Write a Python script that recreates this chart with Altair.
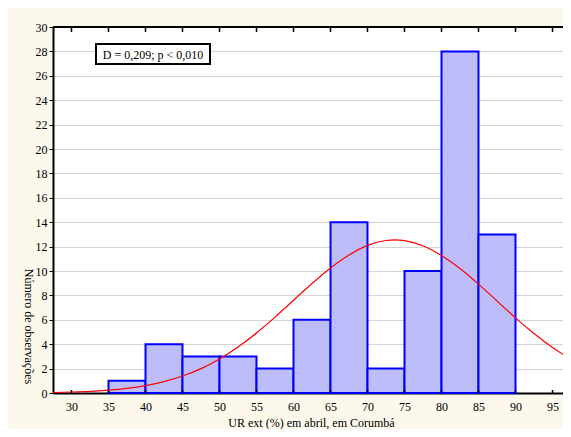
import altair as alt
import pandas as pd

# Histogram bins (UR ext %) and counts
bin_start = [35, 40, 45, 50, 55, 60, 65, 70, 75, 80, 85]
bin_end = [40, 45, 50, 55, 60, 65, 70, 75, 80, 85, 90]
counts = [1, 4, 3, 3, 2, 6, 14, 2, 10, 28, 13]

# Fitted normal curve
curve_x = [27.5, 30, 32.5, 35, 37.5, 40, 42.5, 45, 47.5, 50, 52.5, 55, 57.5, 60,
           62.5, 65, 67.5, 70, 72.5, 75, 77.5, 80, 82.5, 85, 87.5, 90, 92.5, 95, 97.5]
curve_y = [0.04, 0.08, 0.13, 0.23, 0.38, 0.60, 0.93, 1.39, 2.00, 2.79, 3.77, 4.92, 6.22, 7.60,
           8.97, 10.25, 11.32, 12.10, 12.50, 12.49, 12.07, 11.28, 10.20, 8.92, 7.54, 6.16, 4.87, 3.73, 2.76]

x_ticks = [30, 35, 40, 45, 50, 55, 60, 65, 70, 75, 80, 85, 90, 95]
y_ticks = list(range(0, 31, 2))

annotation = "D = 0,209; p < 0,010"
x_title = "UR ext (%) em abril, em Corumbá"
y_title = "Número de observações"

W, H = 510, 366
FONT = "Liberation Serif"

bars_df = pd.DataFrame({"a": bin_start, "b": bin_end, "n": counts})
curve_df = pd.DataFrame({"x": curve_x, "y": curve_y})
xt_df = pd.DataFrame({"x": x_ticks})
yt_df = pd.DataFrame({"y": y_ticks})

xscale = alt.Scale(domain=[27.5, 27.5 + W / 7.4], nice=False, zero=False)
yscale = alt.Scale(domain=[0, 30], nice=False)

xaxis = alt.Axis(values=x_ticks, title=x_title, ticks=False, labelPadding=8,
                 labelOverlap=False, labelFlush=False,
                 grid=False, domainColor="black", domainWidth=2,
                 labelFont=FONT, titleFont=FONT, labelFontSize=12, titleFontSize=12,
                 titleFontWeight="normal", labelColor="black", titleColor="black",
                 titleY=33, titleBaseline="alphabetic", titleX=W / 2 + 3)
yaxis = alt.Axis(values=y_ticks, title=y_title, tickSize=4, tickColor="black",
                 labelPadding=2, labelOverlap=False, labelFlush=False,
                 grid=True, gridColor="#a8a8a8", gridDash=[1, 1],
                 domainColor="black", domainWidth=2,
                 labelFont=FONT, titleFont=FONT, labelFontSize=12, titleFontSize=12,
                 titleFontWeight="normal", labelColor="black", titleColor="black",
                 titleAngle=90, titleX=-25, titleY=299, titleAlign="center",
                 titleBaseline="middle")

bars = alt.Chart(bars_df).mark_rect(
    fill="#bdbdf9", stroke="#0000ff", strokeWidth=2
).encode(
    x=alt.X("a:Q", scale=xscale, axis=xaxis),
    x2="b:Q",
    y=alt.Y("n:Q", scale=yscale, axis=yaxis),
    y2=alt.datum(0),
)

curve = alt.Chart(curve_df).mark_line(
    color="#ff0000", strokeWidth=1.2, interpolate="natural", clip=True
).encode(
    x=alt.X("x:Q", scale=xscale, axis=xaxis),
    y=alt.Y("y:Q", scale=yscale, axis=yaxis),
)

top_line = alt.Chart(xt_df).mark_rule(color="black", strokeWidth=2).encode(
    x=alt.value(0), x2=alt.value(W), y=alt.value(0)
)
top_ticks = alt.Chart(xt_df).mark_rule(color="black", strokeWidth=1.5).encode(
    x=alt.X("x:Q", scale=xscale, axis=xaxis), y=alt.value(0), y2=alt.value(5)
)
bottom_ticks = alt.Chart(xt_df).mark_rule(color="black", strokeWidth=1.5).encode(
    x=alt.X("x:Q", scale=xscale, axis=xaxis), y=alt.value(H - 3), y2=alt.value(H)
)

box = alt.Chart(pd.DataFrame({"t": [annotation]})).mark_rect(
    fill="white", stroke="black", strokeWidth=2
).encode(x=alt.value(43), x2=alt.value(157), y=alt.value(17), y2=alt.value(37))
label = alt.Chart(pd.DataFrame({"t": [annotation]})).mark_text(
    font=FONT, fontSize=12, color="black", align="center", baseline="middle"
).encode(x=alt.value(100), y=alt.value(27.5), text="t:N")

chart = alt.layer(bars, curve, top_line, top_ticks, bottom_ticks, box, label).properties(
    width=W, height=H,
    background="#fdf8ec",
    padding={"left": 45, "top": 19, "right": 0, "bottom": 36},
    autosize=alt.AutoSizeParams(type="none"),
).configure_view(
    strokeWidth=0, fill="white"
)

chart.save("out.html", embed_options={"renderer": "svg", "actions": False})
